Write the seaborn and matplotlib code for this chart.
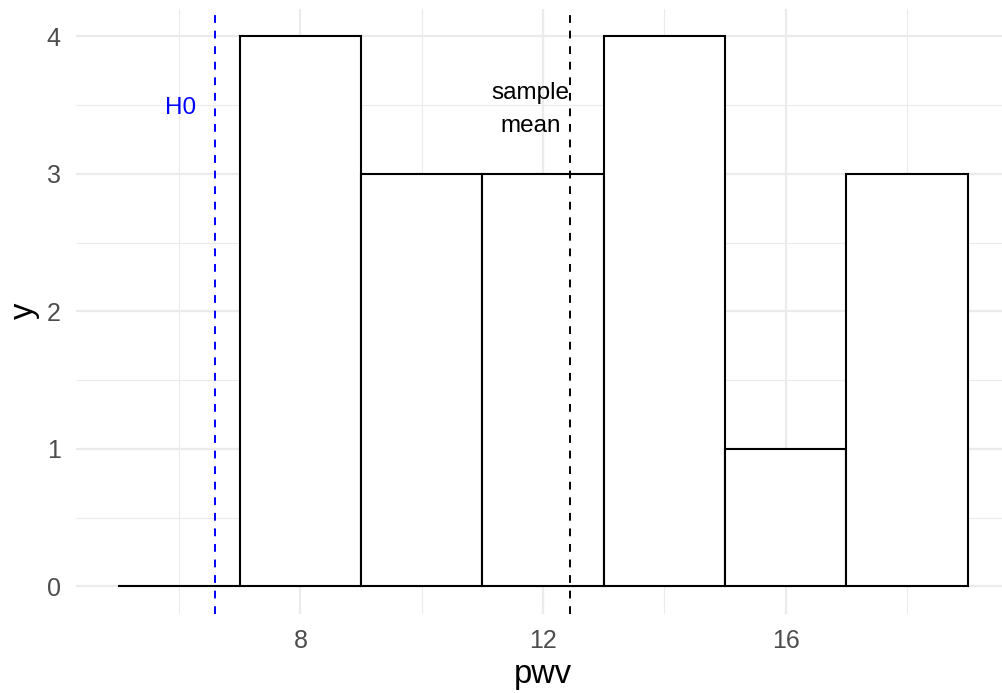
import numpy as np
import pandas as pd
import seaborn as sns
import matplotlib.pyplot as plt
from matplotlib.ticker import FixedLocator

# ---- data ----
bin_edges = [5, 7, 9, 11, 13, 15, 17, 19]
counts = [0, 4, 3, 3, 4, 1, 3]
h0_value = 6.6
sample_mean = 12.45
x_major = [8, 12, 16]
x_minor = [6, 10, 14, 18]
y_major = [0, 1, 2, 3, 4]
y_minor = [0.5, 1.5, 2.5, 3.5]

sns.set_theme(style="white")
plt.rcParams['font.family'] = ['Liberation Sans', 'DejaVu Sans']

W, H = 1002, 693
fig = plt.figure(figsize=(W / 100, H / 100), dpi=100)
fig.patch.set_facecolor('white')
# panel in pixel coordinates (left, right, top, bottom)
pl, pr, pt, pb = 76, 1010, 8.8, 613.8
ax = fig.add_axes([pl / W, (H - pb) / H, (pr - pl) / W, (pb - pt) / H])
ax.set_facecolor('white')

centers = [(a + b) / 2 for a, b in zip(bin_edges[:-1], bin_edges[1:])]
df = pd.DataFrame({'pwv': centers, 'n': counts})
sns.histplot(data=df, x='pwv', weights='n', bins=bin_edges, ax=ax,
             color='white', edgecolor='black', linewidth=1.5, alpha=1,
             zorder=3)

ax.axvline(h0_value, color='blue', lw=1.4, ls=(0, (4, 4)), zorder=4)
ax.axvline(sample_mean, color='black', lw=1.4, ls=(0, (4, 4)), zorder=4)

ax.text(h0_value - 0.58, 3.48, 'H0', color='blue', ha='center', va='center',
        fontsize=17.5, zorder=5)
ax.text(sample_mean - 0.66, 3.47, 'sample\nmean', color='black', ha='center',
        va='center', fontsize=17.5, linespacing=1.65, zorder=5)

ax.set_xlim(4.3, 19.7)
ax.set_ylim(-0.2, 4.2)
ax.xaxis.set_major_locator(FixedLocator(x_major))
ax.xaxis.set_minor_locator(FixedLocator(x_minor))
ax.yaxis.set_major_locator(FixedLocator(y_major))
ax.yaxis.set_minor_locator(FixedLocator(y_minor))
ax.set_xticklabels([str(v) for v in x_major])
ax.set_yticklabels([str(v) for v in y_major])

ax.grid(which='major', color='#EBEBEB', lw=1.6, zorder=0)
ax.grid(which='minor', color='#EBEBEB', lw=0.8, zorder=0)
ax.set_axisbelow(True)
for s in ax.spines.values():
    s.set_visible(False)

ax.tick_params(axis='both', which='both', length=0, labelsize=18,
               labelcolor='#4D4D4D')
ax.tick_params(axis='y', pad=11)
ax.tick_params(axis='x', pad=11)

ax.set_xlabel('pwv', fontsize=23.5, color='black', labelpad=4)
ax.set_ylabel('y', fontsize=23.5, color='black', labelpad=5)

fig.savefig('out.png', dpi=100, facecolor='white')
